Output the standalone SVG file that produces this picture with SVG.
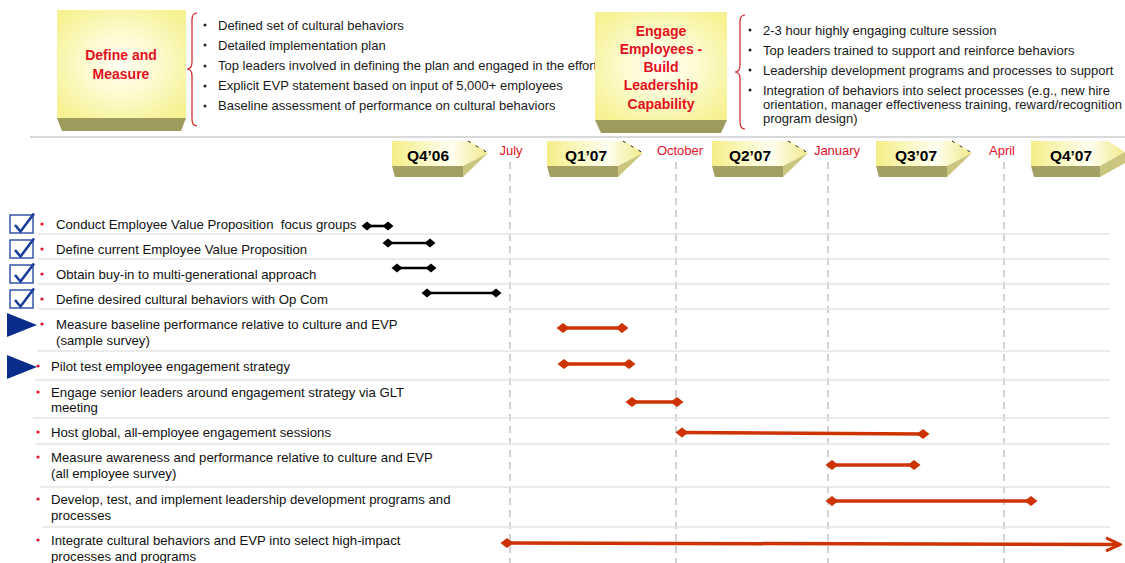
<svg xmlns="http://www.w3.org/2000/svg" width="1125" height="563" viewBox="0 0 1125 563">
<defs>
<radialGradient id="boxg" cx="0.5" cy="0.5" r="0.62">
<stop offset="0" stop-color="#fffff4"/>
<stop offset="0.45" stop-color="#fdfbd0"/>
<stop offset="1" stop-color="#f6f294"/>
</radialGradient>
<linearGradient id="chev" x1="0" y1="0" x2="1" y2="0">
<stop offset="0" stop-color="#f4ee88"/>
<stop offset="0.62" stop-color="#fffff2"/>
<stop offset="1" stop-color="#f0ea88"/>
</linearGradient>
<marker id="dk" viewBox="-6 -5 12 10" markerWidth="12" markerHeight="10" markerUnits="userSpaceOnUse" orient="auto">
<path d="M-5.5,0 L0,-4.5 L5.5,0 L0,4.5 Z" fill="#000"/>
</marker>
<marker id="dr" viewBox="-7 -6 14 12" markerWidth="14" markerHeight="12" markerUnits="userSpaceOnUse" orient="auto">
<path d="M-6.5,0 L0,-5 L6.5,0 L0,5 Z" fill="#cc3300"/>
</marker>
<marker id="ar" viewBox="-16 -8 18 16" markerWidth="18" markerHeight="16" markerUnits="userSpaceOnUse" orient="auto">
<path d="M-14,-6.5 L0,0 L-14,6.5" fill="none" stroke="#cc3300" stroke-width="3"/>
</marker>
</defs>
<style>
text{font-family:"Liberation Sans",Arial,sans-serif}
.hd{font-size:14px;font-weight:bold;fill:#e3101e;text-anchor:middle}
.bl{font-size:13px;fill:#1a1a1a}
.row{font-size:13.2px;fill:#111}
.q{font-size:15.5px;font-weight:bold;fill:#000;text-anchor:middle}
.mo{font-size:13px;fill:#e3102a;text-anchor:middle}
.face{fill:url(#boxg)}
.olive{fill:#9e9b5e}
.cface{fill:url(#chev)}
.cfront{fill:#a4a063}
.cside{fill:#cbc67f}
.cedge{fill:none;stroke:#222;stroke-width:1;stroke-dasharray:3,6}
.brace{fill:none;stroke:#cc2222;stroke-width:1.2}
.sep{stroke:#e4e4e4;stroke-width:1.5}
.dash{stroke:#c8c8c8;stroke-width:1.6;stroke-dasharray:7,5}
.rd{fill:#e3102a}
.chk{fill:#fff;stroke:#3355aa;stroke-width:1.5}
.tick{fill:none;stroke:#1a3c9c;stroke-width:2.6}
.tri{fill:#0a2d8c}
.kb{stroke:#000;stroke-width:2.6;marker-start:url(#dk);marker-end:url(#dk)}
.rb{stroke:#cc3300;stroke-width:3.5;marker-start:url(#dr);marker-end:url(#dr)}
</style>
<rect width="1125" height="563" fill="#fff"/>

<line x1="30" y1="137" x2="1125" y2="137" stroke="#cccccc" stroke-width="1.5"/>

<g id="define-measure">
<rect class="face" x="57" y="10" width="129" height="108"/>
<path class="olive" d="M57,118 L186,118 L181,131 L62,131 Z"/>
<text class="hd" x="121" y="60">Define and</text>
<text class="hd" x="121" y="79">Measure</text>
<path class="brace" d="M197,13 Q192,13 192,20 L192,62 Q192,69 187,69 Q192,69 192,76 L192,119 Q192,126 197,126"/>
<g class="bl">
<circle cx="205" cy="25" r="1.5" fill="#222"/><text x="218" y="29.5">Defined set of cultural behaviors</text>
<circle cx="205" cy="45" r="1.5" fill="#222"/><text x="218" y="49.5">Detailed implementation plan</text>
<circle cx="205" cy="66" r="1.5" fill="#222"/><text x="218" y="70">Top leaders involved in defining the plan and engaged in the effort</text>
<circle cx="205" cy="86" r="1.5" fill="#222"/><text x="218" y="90">Explicit EVP statement based on input of 5,000+ employees</text>
<circle cx="205" cy="106" r="1.5" fill="#222"/><text x="218" y="110">Baseline assessment of performance on cultural behaviors</text>
</g>
</g>

<g id="engage-employees">
<rect class="face" x="595" y="12" width="132" height="108"/>
<path class="olive" d="M595,120 L727,120 L721,133 L601,133 Z"/>
<text class="hd" x="661" y="36">Engage</text>
<text class="hd" x="661" y="54">Employees -</text>
<text class="hd" x="661" y="72">Build</text>
<text class="hd" x="661" y="90">Leadership</text>
<text class="hd" x="661" y="109">Capability</text>
<path class="brace" d="M745,15 Q740,15 740,22 L740,65 Q740,72 735,72 Q740,72 740,79 L740,122 Q740,129 745,129"/>
<g class="bl">
<circle cx="750" cy="30" r="1.5" fill="#222"/><text x="763" y="34.5">2-3 hour highly engaging culture session</text>
<circle cx="750" cy="50" r="1.5" fill="#222"/><text x="763" y="54.5">Top leaders trained to support and reinforce behaviors</text>
<circle cx="750" cy="70" r="1.5" fill="#222"/><text x="763" y="74.5">Leadership development programs and processes to support</text>
<circle cx="750" cy="90" r="1.5" fill="#222"/><text x="763" y="94.5">Integration of behaviors into select processes (e.g., new hire</text>
<text x="763" y="108.5">orientation, manager effectiveness training, reward/recognition</text>
<text x="763" y="122.5">program design)</text>
</g>
</g>

<g id="timeline">
<g id="q406">
<path class="cface" d="M392,141 L470,141 L488,153 L463,166 L392,166 Z"/>
<path class="cfront" d="M392,166 L463,166 L463,177 L395,177 Z"/>
<path class="cside" d="M463,166 L488,153 L463,177 Z"/>
<path class="cedge" d="M468,141 L488,153"/>
<text class="q" x="428" y="161">Q4’06</text>
</g>
<g id="q107">
<path class="cface" d="M547,141 L625,141 L643,153 L618,166 L547,166 Z"/>
<path class="cfront" d="M547,166 L618,166 L618,177 L550,177 Z"/>
<path class="cside" d="M618,166 L643,153 L618,177 Z"/>
<path class="cedge" d="M623,141 L643,153"/>
<text class="q" x="586" y="161">Q1’07</text>
</g>
<g id="q207">
<path class="cface" d="M712,141 L790,141 L808,153 L783,166 L712,166 Z"/>
<path class="cfront" d="M712,166 L783,166 L783,177 L715,177 Z"/>
<path class="cside" d="M783,166 L808,153 L783,177 Z"/>
<path class="cedge" d="M788,141 L808,153"/>
<text class="q" x="750" y="161">Q2’07</text>
</g>
<g id="q307">
<path class="cface" d="M876,141 L954,141 L972,153 L947,166 L876,166 Z"/>
<path class="cfront" d="M876,166 L947,166 L947,177 L879,177 Z"/>
<path class="cside" d="M947,166 L972,153 L947,177 Z"/>
<path class="cedge" d="M952,141 L972,153"/>
<text class="q" x="916" y="161">Q3’07</text>
</g>
<g id="q407">
<path class="cface" d="M1031,141 L1108,141 L1125,152 L1100,166 L1031,166 Z"/>
<path class="cfront" d="M1031,166 L1100,166 L1100,177 L1034,177 Z"/>
<path class="cside" d="M1100,166 L1125,152 L1125,163 L1100,177 Z"/>
<text class="q" x="1071" y="161">Q4’07</text>
</g>
<text class="mo" x="511" y="154.5">July</text>
<text class="mo" x="680" y="154.5">October</text>
<text class="mo" x="837" y="154.5">January</text>
<text class="mo" x="1002" y="154.5">April</text>
<line class="dash" x1="510" y1="162" x2="510" y2="563"/>
<line class="dash" x1="676" y1="162" x2="676" y2="563"/>
<line class="dash" x1="828" y1="162" x2="828" y2="563"/>
<line class="dash" x1="1004" y1="162" x2="1004" y2="563"/>
</g>

<g id="separators">
<line class="sep" x1="38" y1="234" x2="1110" y2="234"/>
<line class="sep" x1="38" y1="259" x2="1110" y2="259"/>
<line class="sep" x1="38" y1="284" x2="1110" y2="284"/>
<line class="sep" x1="38" y1="309" x2="1110" y2="309"/>
<line class="sep" x1="37" y1="351" x2="1110" y2="351"/>
<line class="sep" x1="35" y1="380" x2="1110" y2="380"/>
<line class="sep" x1="33" y1="418" x2="1110" y2="418"/>
<line class="sep" x1="36" y1="444" x2="1110" y2="444"/>
<line class="sep" x1="40" y1="487" x2="1110" y2="487"/>
<line class="sep" x1="43" y1="527" x2="1110" y2="527"/>
</g>

<g id="row1">
<rect class="chk" x="10" y="215" width="23" height="18"/>
<path class="tick" d="M15,225 L20.5,231.5 L34,213.5"/>
<circle class="rd" cx="42" cy="224" r="1.6"/>
<text class="row" x="56" y="228.5">Conduct Employee Value Proposition&#160; focus groups</text>
</g>
<g id="row2">
<rect class="chk" x="10" y="240" width="23" height="18"/>
<path class="tick" d="M15,250 L20.5,256.5 L34,238.5"/>
<circle class="rd" cx="42" cy="249" r="1.6"/>
<text class="row" x="56" y="253.5">Define current Employee Value Proposition</text>
</g>
<g id="row3">
<rect class="chk" x="10" y="265" width="23" height="18"/>
<path class="tick" d="M15,275 L20.5,281.5 L34,263.5"/>
<circle class="rd" cx="42" cy="274" r="1.6"/>
<text class="row" x="56" y="278.5">Obtain buy-in to multi-generational approach</text>
</g>
<g id="row4">
<rect class="chk" x="10" y="290" width="23" height="18"/>
<path class="tick" d="M15,300 L20.5,306.5 L34,288.5"/>
<circle class="rd" cx="42" cy="299" r="1.6"/>
<text class="row" x="56" y="303.5">Define desired cultural behaviors with Op Com</text>
</g>
<g id="row5">
<path class="tri" d="M7,313 L37,325 L7,337 Z"/>
<circle class="rd" cx="42" cy="324" r="1.6"/>
<text class="row" x="56" y="328.5">Measure baseline performance relative to culture and EVP</text>
<text class="row" x="56" y="345">(sample survey)</text>
</g>
<g id="row6">
<path class="tri" d="M7,355 L37,367 L7,379 Z"/>
<circle class="rd" cx="38" cy="366" r="1.6"/>
<text class="row" x="51" y="370.5">Pilot test employee engagement strategy</text>
</g>
<g id="row7">
<circle class="rd" cx="38" cy="392" r="1.6"/>
<text class="row" x="51" y="396.5">Engage senior leaders around engagement strategy via GLT</text>
<text class="row" x="51" y="412">meeting</text>
</g>
<g id="row8">
<circle class="rd" cx="38" cy="432" r="1.6"/>
<text class="row" x="51" y="436.5">Host global, all-employee engagement sessions</text>
</g>
<g id="row9">
<circle class="rd" cx="38" cy="457" r="1.6"/>
<text class="row" x="51" y="461.5">Measure awareness and performance relative to culture and EVP</text>
<text class="row" x="51" y="478">(all employee survey)</text>
</g>
<g id="row10">
<circle class="rd" cx="38" cy="499" r="1.6"/>
<text class="row" x="51" y="503.5">Develop, test, and implement leadership development programs and</text>
<text class="row" x="51" y="519.5">processes</text>
</g>
<g id="row11">
<circle class="rd" cx="38" cy="540" r="1.6"/>
<text class="row" x="51" y="544.5">Integrate cultural behaviors and EVP into select high-impact</text>
<text class="row" x="51" y="561">processes and programs</text>
</g>

<g id="connectors">
<line class="kb" x1="367" y1="226" x2="388" y2="226"/>
<line class="kb" x1="388" y1="243" x2="430" y2="243"/>
<line class="kb" x1="397" y1="268" x2="431" y2="268"/>
<line class="kb" x1="427" y1="293" x2="496" y2="293"/>
<line class="rb" x1="563" y1="328" x2="622" y2="328"/>
<line class="rb" x1="564" y1="364" x2="629" y2="364"/>
<line class="rb" x1="632" y1="402" x2="677" y2="402"/>
<line class="rb" x1="682" y1="432.5" x2="923" y2="434"/>
<line class="rb" x1="832" y1="465" x2="914" y2="465"/>
<line class="rb" x1="832" y1="501" x2="1031" y2="501"/>
<path d="M507,543 L1120,544.5" fill="none" stroke="#cc3300" stroke-width="3.5" marker-start="url(#dr)" marker-end="url(#ar)"/>
</g>
</svg>
